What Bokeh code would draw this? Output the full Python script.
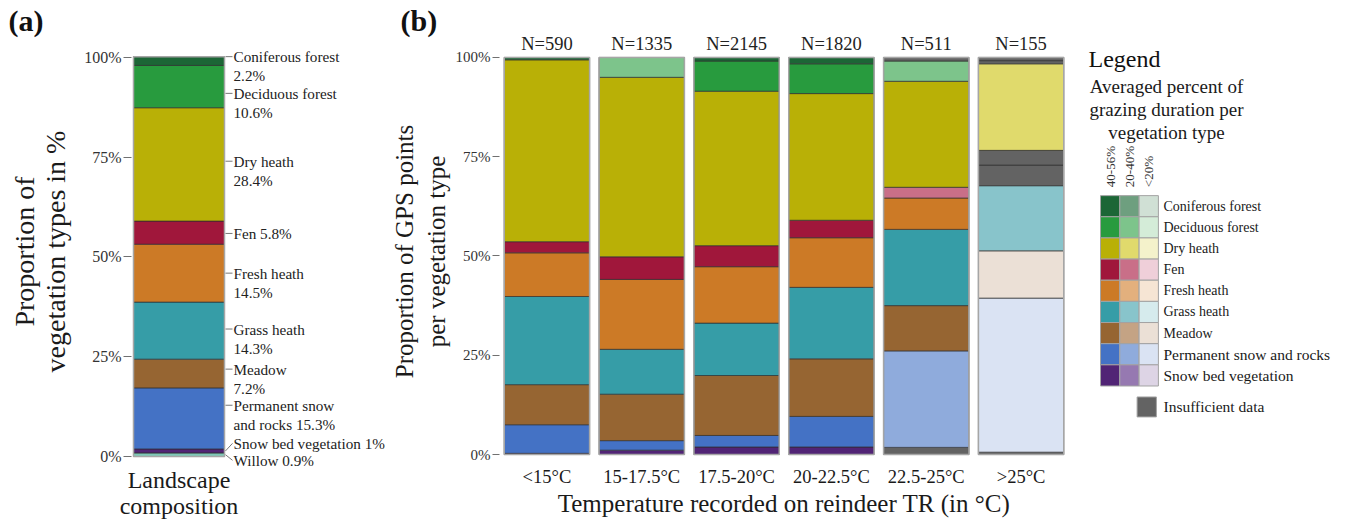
from math import pi
from bokeh.plotting import figure
from bokeh.models import (ColumnDataSource, Range1d, FactorRange, FixedTicker,
                          NumeralTickFormatter, Title)
from bokeh.layouts import row
from bokeh.embed import file_html
from bokeh.resources import INLINE
from bokeh.core.properties import value

SERIF = "Liberation Serif"

# ---------------- data: panel (a) landscape composition (bottom -> top) ----------------
landscape_types = ["Willow", "Snow bed vegetation", "Permanent snow and rocks", "Meadow",
                   "Grass heath", "Fresh heath", "Fen", "Dry heath", "Deciduous forest",
                   "Coniferous forest"]
landscape_pct = [0.9, 1.0, 15.3, 7.2, 14.3, 14.5, 5.8, 28.4, 10.6, 2.2]
landscape_line1 = ["Willow 0.9%", "Snow bed vegetation 1%", "Permanent snow", "Meadow",
                   "Grass heath", "Fresh heath", "Fen 5.8%", "Dry heath", "Deciduous forest",
                   "Coniferous forest"]
landscape_line2 = ["", "", "and rocks 15.3%", "7.2%", "14.3%", "14.5%", "", "28.4%",
                   "10.6%", "2.2%"]
landscape_category = "Landscape\ncomposition"

# ---------------- data: panel (b) GPS points per temperature class ----------------
temp_classes = ["<15°C", "15-17.5°C", "17.5-20°C", "20-22.5°C", "22.5-25°C", ">25°C"]
n_points = [590, 1335, 2145, 1820, 511, 155]

# stacking order bottom -> top
veg_types = ["Snow bed vegetation", "Permanent snow and rocks", "Meadow", "Grass heath",
             "Fresh heath", "Fen", "Dry heath", "Deciduous forest", "Coniferous forest"]
snow_bed = [0.3, 1.1, 1.9, 1.9, 1.8, 0.6]
perm_snow = [7.2, 2.4, 2.9, 7.7, 24.3, 38.8]
meadow = [10.1, 11.7, 15.1, 14.5, 11.4, 11.9]
grass_heath = [22.2, 11.3, 13.2, 18.0, 19.2, 16.4]
fresh_heath = [11.0, 17.6, 14.2, 12.5, 7.9, 5.2]
fen = [2.8, 5.7, 5.3, 4.4, 2.7, 3.7]
dry_heath = [45.8, 45.2, 38.9, 31.9, 26.7, 21.8]
deciduous = [0.0, 5.0, 7.6, 7.5, 5.1, 0.8]
coniferous = [0.6, 0.0, 0.9, 1.6, 0.9, 0.8]

# grazing-duration class: 0 = 40-56%, 1 = 20-40%, 2 = <20%, 3 = insufficient data
snow_bed_cls = [0, 0, 0, 0, 3, 3]
perm_snow_cls = [0, 0, 0, 0, 1, 2]
meadow_cls = [0, 0, 0, 0, 0, 2]
grass_heath_cls = [0, 0, 0, 0, 0, 1]
fresh_heath_cls = [0, 0, 0, 0, 0, 3]
fen_cls = [0, 0, 0, 0, 1, 3]
dry_heath_cls = [0, 0, 0, 0, 0, 1]
deciduous_cls = [0, 1, 0, 0, 1, 3]
coniferous_cls = [0, 0, 0, 0, 3, 3]

class_labels = ["40-56%", "20-40%", "<20%"]
legend_rows = ["Coniferous forest", "Deciduous forest", "Dry heath", "Fen", "Fresh heath",
               "Grass heath", "Meadow", "Permanent snow and rocks", "Snow bed vegetation"]

# ---------------- colours ----------------
palette = {
    "Coniferous forest": ["#1c6636", "#6e9f7f", "#d0e0d5"],
    "Deciduous forest": ["#289b3e", "#7dc48b", "#d4ecd8"],
    "Dry heath": ["#b9b006", "#e0da6c", "#f4f2cb"],
    "Fen": ["#a0173b", "#c96f88", "#efcfd9"],
    "Fresh heath": ["#cc7a26", "#e3b07d", "#f6e5d4"],
    "Grass heath": ["#369da7", "#88c4cb", "#d6ebed"],
    "Meadow": ["#966532", "#c4a384", "#ebe0d6"],
    "Permanent snow and rocks": ["#4472c5", "#8fabdc", "#dae3f3"],
    "Snow bed vegetation": ["#512475", "#9679b1", "#ddd4e5"],
}
INSUFF = "#636363"
WILLOW = "#7fc7b7"
SEG_LINE = "#2e2e2e"
OUTLINE = "#a6a6a6"

TOP, BOTTOM = 36, 54          # shared frame borders (row aligns frames)
FRAME_BOTTOM_PX = 521 - BOTTOM


def style_yaxis(ax, label_size, tick_size):
    ax.axis_line_color = None
    ax.major_tick_in = 0
    ax.major_tick_out = 8
    ax.major_tick_line_color = "#707070"
    ax.minor_tick_line_color = None
    ax.major_label_text_font = SERIF
    ax.major_label_text_font_size = tick_size
    ax.major_label_text_color = "#333333"
    ax.axis_label_text_font = SERIF
    ax.axis_label_text_font_style = "normal"
    ax.axis_label_text_font_size = label_size
    ax.axis_label_text_color = "#1a1a1a"
    ax.ticker = FixedTicker(ticks=[0, 0.25, 0.5, 0.75, 1.0])
    ax.formatter = NumeralTickFormatter(format="0%")


def panel_title(text, offset):
    return Title(text=text, align="left", offset=offset, standoff=0, text_font=SERIF,
                 text_font_size="30px", text_font_style="bold", text_color="#111111")


# ================= panel (a) =================
A_WIDTH = 387
A_LEFT = 131
PX = 91.0                     # pixels per bar width unit
BAR_CX = 178.5                # bar centre on the page
ya = Range1d(-(FRAME_BOTTOM_PX - 457) / 400, (457 - TOP) / 400)
pa = figure(width=A_WIDTH, height=521,
            x_range=Range1d((A_LEFT - BAR_CX) / PX, (A_WIDTH - BAR_CX) / PX), y_range=ya,
            output_backend="svg", toolbar_location=None,
            min_border_left=A_LEFT, min_border_right=0, min_border_top=TOP, min_border_bottom=BOTTOM)
pa.outline_line_color = None
pa.grid.visible = False

bottoms, tops = [], []
acc = 0.0
for v in landscape_pct:
    bottoms.append(acc / 100)
    acc += v
    tops.append(acc / 100)
a_colors = [WILLOW if t == "Willow" else palette[t][0] for t in landscape_types]
src_a = ColumnDataSource(dict(x=[0] * len(landscape_types), bottom=bottoms, top=tops, color=a_colors))
pa.vbar(x="x", width=1, bottom="bottom", top="top", fill_color="color", line_color=SEG_LINE,
        line_width=0.8, line_alpha=0.85, source=src_a)
pa.vbar(x=[0], width=1, bottom=[0], top=[tops[-1]], fill_color=None, line_color=OUTLINE, line_width=1.5)

# label nudges (in %) relative to segment centres
nudge = {"Willow": -1.4, "Snow bed vegetation": 1.9, "Permanent snow and rocks": 3.3,
         "Meadow": 1.1, "Grass heath": 0.4, "Fresh heath": 0.0, "Fen": -0.2, "Dry heath": 0.8,
         "Deciduous forest": -1.7, "Coniferous forest": 1.1}
lab_y, lead_y0 = [], []
for t, b, tp in zip(landscape_types, bottoms, tops):
    c = (b + tp) / 2
    ly = c + nudge[t] / 100
    lab_y.append(ly)
    lead_y0.append(ly if b <= ly <= tp else c)
n_a = len(landscape_types)
src_lab = ColumnDataSource(dict(x0=[0.5 + 1 / PX] * n_a, y0=lead_y0, x1=[0.5 + 8 / PX] * n_a,
                                y1=lab_y, tx=[0.5 + 9 / PX] * n_a,
                                l1=landscape_line1, l2=landscape_line2))
pa.segment(x0="x0", y0="y0", x1="x1", y1="y1", line_color="#777777", line_width=1, source=src_lab)
pa.text(x="tx", y="y1", text="l1", text_baseline="middle", text_align="left",
        text_font=value(SERIF), text_font_size="15.2px", text_color="#222222", source=src_lab)
pa.text(x="tx", y="y1", text="l2", text_baseline="middle", text_align="left", y_offset=19,
        text_font=value(SERIF), text_font_size="15.2px", text_color="#222222", source=src_lab)

style_yaxis(pa.yaxis[0], "28px", "16px")
pa.yaxis[0].axis_label = "Proportion of\nvegetation types in %"
pa.yaxis[0].axis_label_text_line_height = 1.0
pa.yaxis[0].major_label_standoff = 2
pa.yaxis[0].axis_label_standoff = 10

xa = pa.xaxis[0]
xa.ticker = FixedTicker(ticks=[0])
xa.major_label_overrides = {0: landscape_category}
xa.axis_line_color = None
xa.major_tick_line_color = None
xa.major_tick_out = 0
xa.major_tick_in = 0
xa.minor_tick_line_color = None
xa.major_label_standoff = 0
xa.major_label_text_font = SERIF
xa.major_label_text_font_size = "24px"
xa.major_label_text_line_height = 1.0
xa.major_label_text_color = "#1a1a1a"

pa.add_layout(panel_title("(a)", 8 - A_LEFT), "above")

# ================= panel (b) =================
B_LEFT, B_RIGHT = 112, 12
pb = figure(width=1080 - A_WIDTH, height=521,
            x_range=FactorRange(factors=temp_classes, range_padding=0),
            y_range=Range1d(-(FRAME_BOTTOM_PX - 455) / 398, (455 - TOP) / 398),
            output_backend="svg", toolbar_location=None,
            min_border_left=B_LEFT, min_border_right=B_RIGHT, min_border_top=TOP,
            min_border_bottom=BOTTOM)
pb.outline_line_color = None
pb.grid.visible = False

series = [(snow_bed, snow_bed_cls), (perm_snow, perm_snow_cls), (meadow, meadow_cls),
          (grass_heath, grass_heath_cls), (fresh_heath, fresh_heath_cls), (fen, fen_cls),
          (dry_heath, dry_heath_cls), (deciduous, deciduous_cls), (coniferous, coniferous_cls)]
xs, bs, ts, cs = [], [], [], []
totals = []
for i, tc in enumerate(temp_classes):
    acc = 0.0
    for veg, (vals, cls) in zip(veg_types, series):
        v = vals[i]
        if v <= 0:
            continue
        xs.append(tc)
        bs.append(acc / 100)
        acc += v
        ts.append(acc / 100)
        cs.append(INSUFF if cls[i] == 3 else palette[veg][cls[i]])
    totals.append(acc / 100)
src_b = ColumnDataSource(dict(x=xs, bottom=bs, top=ts, color=cs))
pb.vbar(x="x", width=0.9, bottom="bottom", top="top", fill_color="color", line_color=SEG_LINE,
        line_width=0.8, line_alpha=0.85, source=src_b)
pb.vbar(x=temp_classes, width=0.9, bottom=[0] * 6, top=totals, fill_color=None,
        line_color=OUTLINE, line_width=1.5)
pb.text(x=temp_classes, y=[1.0] * 6, text=[f"N={n}" for n in n_points], text_align="center",
        text_baseline="bottom", y_offset=-3, text_font=value(SERIF), text_font_size="18.5px",
        text_color="#222222")

style_yaxis(pb.yaxis[0], "25px", "15px")
pb.yaxis[0].axis_label = "Proportion of GPS points\nper vegetation type"
pb.yaxis[0].axis_label_text_line_height = 1.15
pb.yaxis[0].major_tick_out = 7
pb.yaxis[0].major_label_standoff = 2
pb.yaxis[0].axis_label_standoff = 3

xb = pb.xaxis[0]
xb.axis_line_color = None
xb.major_tick_line_color = None
xb.major_tick_out = 0
xb.major_tick_in = 0
xb.minor_tick_line_color = None
xb.major_label_text_font = SERIF
xb.major_label_text_font_size = "18.5px"
xb.major_label_text_color = "#1a1a1a"
xb.major_label_standoff = 0
xb.axis_label = "Temperature recorded on reindeer TR (in °C)"
xb.axis_label_text_font = SERIF
xb.axis_label_text_font_style = "normal"
xb.axis_label_text_font_size = "25px"
xb.axis_label_text_color = "#1a1a1a"
xb.axis_label_standoff = 0

pb.add_layout(panel_title("(b)", 400 - (A_WIDTH + B_LEFT)), "above")

# ================= legend (pixel coordinates of the page) =================
pl = figure(width=270, height=521, x_range=Range1d(0, 270), y_range=Range1d(FRAME_BOTTOM_PX, TOP),
            output_backend="svg", toolbar_location=None, x_axis_location=None,
            y_axis_location=None, min_border_left=0, min_border_right=0,
            min_border_top=TOP, min_border_bottom=BOTTOM)
pl.outline_line_color = None
pl.grid.visible = False

pl.text(x=[8], y=[59], text=["Legend"], text_baseline="middle", text_font=value(SERIF),
        text_font_size="24px", text_color="#111111")
pl.text(x=[86] * 3, y=[86, 109, 132],
        text=["Averaged percent of", "grazing duration per", "vegetation type"],
        text_align="center", text_baseline="middle", text_font=value(SERIF),
        text_font_size="19px", text_color="#1a1a1a")

col_w, row_h, x0, y0 = 19.3, 21.2, 20.0, 195.5
pl.text(x=[x0 + col_w * (c + 0.5) for c in range(3)], y=[187] * 3, text=class_labels,
        angle=pi / 2, text_align="left", text_baseline="middle", text_font=value(SERIF),
        text_font_size="13px", text_color="#333333")

ql, qr, qt, qb, qc = [], [], [], [], []
for r, veg in enumerate(legend_rows):
    for c in range(3):
        ql.append(x0 + c * col_w)
        qr.append(x0 + (c + 1) * col_w)
        qt.append(y0 + r * row_h)
        qb.append(y0 + (r + 1) * row_h)
        qc.append(palette[veg][c])
pl.quad(left=ql, right=qr, top=qt, bottom=qb, fill_color=qc, line_color="#a3a3a3", line_width=1)
leg_sizes = ["15.5px" if len(v) > 17 else "14px" for v in legend_rows]
pl.text(x=[83] * len(legend_rows), y=[y0 + (r + 0.5) * row_h for r in range(len(legend_rows))],
        text=legend_rows, text_baseline="middle", text_font=value(SERIF),
        text_font_size=leg_sizes, text_color="#1a1a1a")

iy = y0 + len(legend_rows) * row_h + 11
pl.quad(left=[x0 + 2 * col_w - 2], right=[x0 + 3 * col_w - 2], top=[iy], bottom=[iy + 20],
        fill_color=INSUFF, line_color="#a3a3a3", line_width=1)
pl.text(x=[83], y=[iy + 10], text=["Insufficient data"], text_baseline="middle",
        text_font=value(SERIF), text_font_size="15.5px", text_color="#1a1a1a")

layout = row(pa, pb, pl, spacing=0)
open("out.html", "w").write(file_html(layout, INLINE))
